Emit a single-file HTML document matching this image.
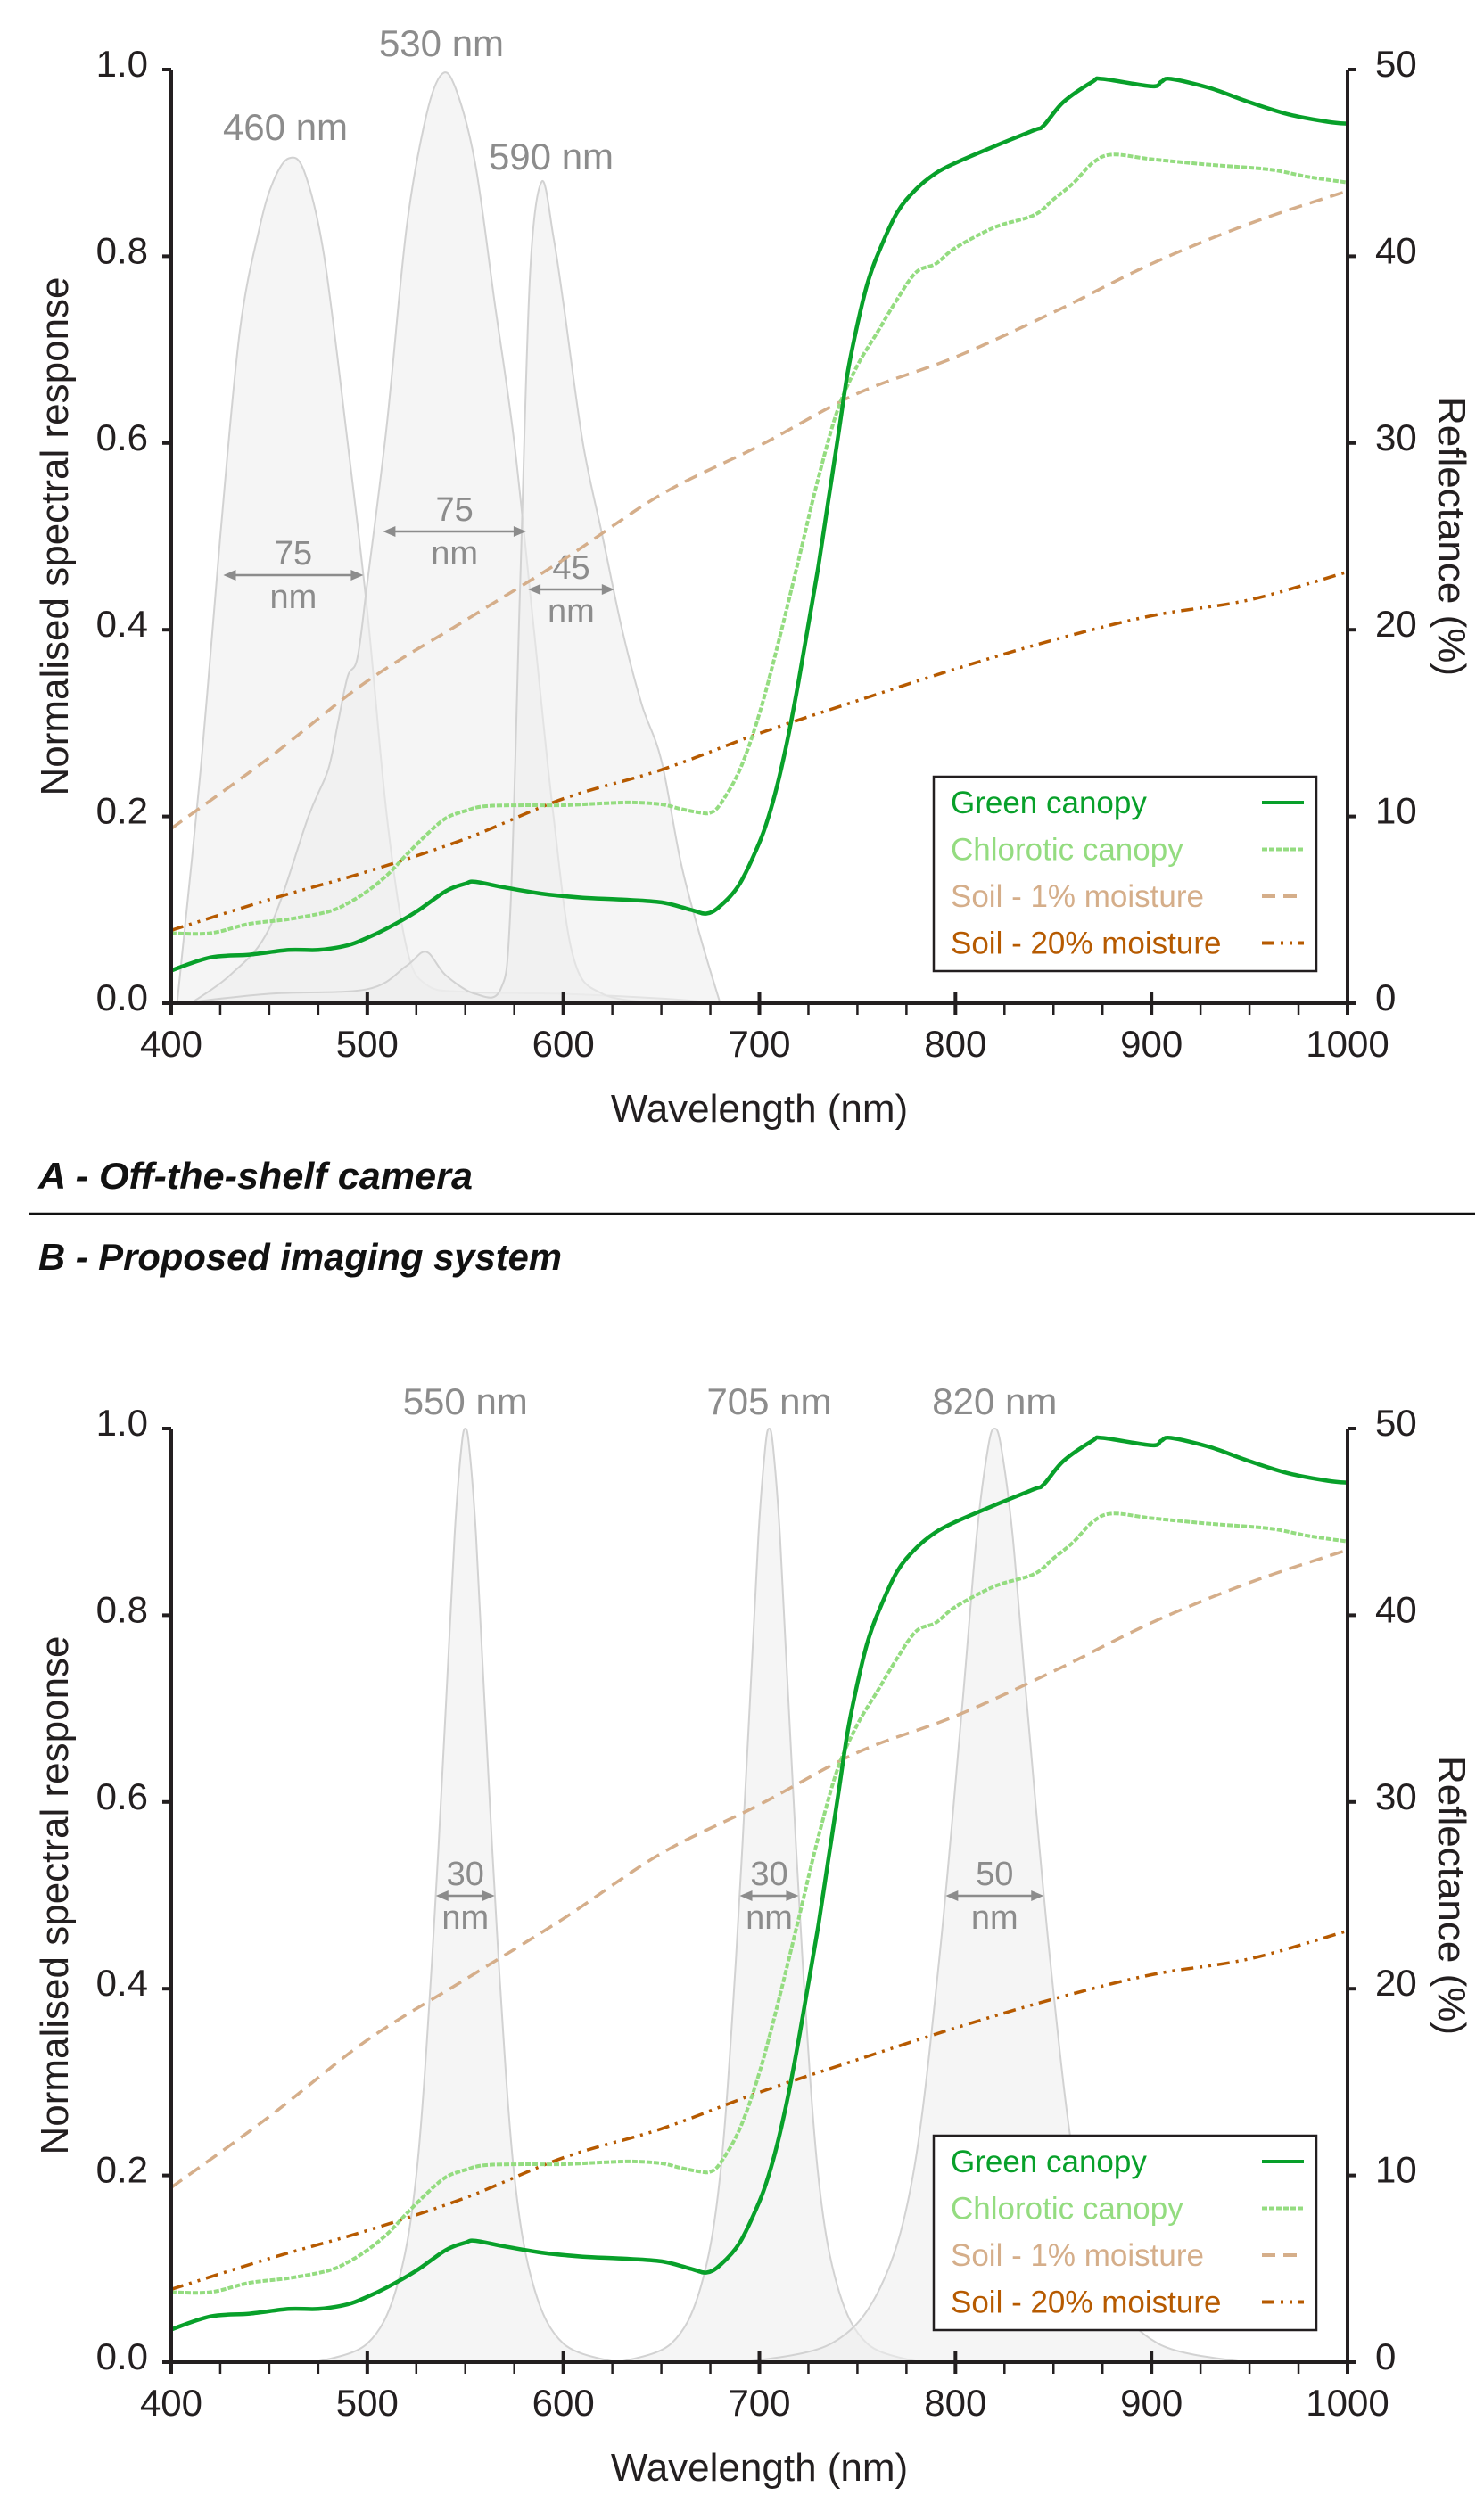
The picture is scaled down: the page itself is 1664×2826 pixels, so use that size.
<!DOCTYPE html>
<html><head><meta charset="utf-8">
<style>
html,body{margin:0;padding:0;background:#fff;}
svg{display:block;}
text{font-family:"Liberation Sans",sans-serif;}
</style></head>
<body>
<svg id="fig" width="1664" height="2826" viewBox="0 0 1664 2826" xmlns="http://www.w3.org/2000/svg">
  <text x="43" y="1333" font-size="42" font-weight="bold" font-style="italic" fill="#111" textLength="487" lengthAdjust="spacingAndGlyphs">A - Off-the-shelf camera</text>
  <line x1="32" y1="1361" x2="1654" y2="1361" stroke="#111" stroke-width="2.5"/>
  <text x="43" y="1424" font-size="42" font-weight="bold" font-style="italic" fill="#111" textLength="587" lengthAdjust="spacingAndGlyphs">B - Proposed imaging system</text>
</svg>
<script>
// ---- data ----
const wlGreen = [400,420,440,460,475,490,500,510,525,540,550,555,570,590,610,630,650,665,673,680,690,700,705,710,715,720,725,730,735,740,745,750,755,760,770,780,790,800,820,840,845,855,870,875,900,905,910,930,950,970,990,1000];
const greenCanopy = [0.035,0.049,0.052,0.057,0.057,0.062,0.07,0.08,0.098,0.12,0.128,0.13,0.124,0.117,0.113,0.111,0.108,0.10,0.096,0.104,0.128,0.172,0.202,0.241,0.289,0.345,0.406,0.467,0.536,0.605,0.675,0.727,0.77,0.80,0.846,0.872,0.889,0.90,0.918,0.935,0.94,0.965,0.987,0.99,0.982,0.987,0.99,0.98,0.965,0.952,0.944,0.942];
const wlChlor = [400,420,440,460,480,490,500,510,520,530,540,550,560,580,600,620,635,650,660,670,675,680,690,700,710,720,730,740,750,760,770,780,790,800,820,840,850,860,870,880,900,930,960,980,1000];
const chloroticCanopy = [0.075,0.075,0.085,0.09,0.098,0.107,0.12,0.137,0.159,0.18,0.198,0.206,0.211,0.212,0.212,0.214,0.215,0.213,0.208,0.204,0.204,0.213,0.25,0.31,0.389,0.475,0.562,0.636,0.683,0.718,0.753,0.783,0.792,0.809,0.831,0.844,0.861,0.878,0.90,0.909,0.904,0.898,0.893,0.885,0.879];
const wlSoil = [400,450,500,550,600,650,700,750,800,850,900,950,1000];
const soilDry = [0.187,0.263,0.345,0.41,0.475,0.545,0.597,0.653,0.692,0.74,0.792,0.835,0.87];
const soilWet = [0.078,0.111,0.141,0.176,0.219,0.25,0.289,0.324,0.358,0.389,0.415,0.432,0.462];
// camera filters (panel A)
const wlBlue = [403,415,425,435,445,452,460,468,478,490,500,510,520,530,550,600,650,680];
const blueBand = [0,0.25,0.5,0.72,0.83,0.88,0.905,0.89,0.8,0.6,0.42,0.2,0.06,0.02,0.012,0.01,0.005,0];
const wlGreenBand = [410,430,450,470,480,485,490,495,500,510,520,530,538,545,555,565,575,585,595,605,620,650];
const greenBand = [0,0.03,0.08,0.2,0.25,0.3,0.35,0.37,0.45,0.62,0.83,0.95,0.995,0.98,0.9,0.75,0.6,0.4,0.2,0.05,0.01,0];
const wlRedBand = [405,450,500,520,530,540,555,568,573,578,583,589,595,600,610,620,630,640,650,660,670,680];
const redBand = [0,0.01,0.015,0.04,0.055,0.03,0.01,0.015,0.1,0.45,0.78,0.88,0.82,0.75,0.6,0.5,0.4,0.32,0.26,0.15,0.07,0];
// proposed filters (panel B): profile vs offset in units of (FWHM/30) nm
const bandCentres = [550,705,820];
const bandFwhm = [30,30,50];
const profileOffsets = [-76,-50,-35,-25,-17,-10,-5.5,-2,0,2,5.5,10,17,25,35,50,76];
const profileValues = [0,0.02,0.08,0.2,0.43,0.7,0.885,0.98,1,0.98,0.885,0.7,0.43,0.2,0.08,0.02,0];
const xTicks = [400,500,600,700,800,900,1000];
const yTicksLeft = ["0.0","0.2","0.4","0.6","0.8","1.0"];
const yTicksRight = ["0","10","20","30","40","50"];

const NS="http://www.w3.org/2000/svg";
const svg=document.getElementById('fig');
const X0=192, X1=1511;
function sx(nm){return X0+(nm-400)/600*(X1-X0);}
function mk(tag,attrs,parent){const e=document.createElementNS(NS,tag);for(const k in attrs)e.setAttribute(k,attrs[k]);(parent||svg).appendChild(e);return e;}
function smoothPath(xs,ys){
  let d='M'+xs[0].toFixed(1)+','+ys[0].toFixed(1);
  for(let i=0;i<xs.length-1;i++){
    const x0=xs[Math.max(i-1,0)],y0=ys[Math.max(i-1,0)],x1=xs[i],y1=ys[i],x2=xs[i+1],y2=ys[i+1],x3=xs[Math.min(i+2,xs.length-1)],y3=ys[Math.min(i+2,xs.length-1)];
    const c1x=x1+(x2-x0)/6,c1y=y1+(y2-y0)/6,c2x=x2-(x3-x1)/6,c2y=y2-(y3-y1)/6;
    d+=' C'+c1x.toFixed(1)+','+c1y.toFixed(1)+' '+c2x.toFixed(1)+','+c2y.toFixed(1)+' '+x2.toFixed(1)+','+y2.toFixed(1);
  }
  return d;
}
function panel(key,yTop,yBot,bands,labels,arrows){
  const g=mk('g',{});
  
  
  const sy=v=>yBot-v*(yBot-yTop);
  bands.forEach((b,i)=>{
    const xs=b.wl.map(sx), ys=b.v.map(sy);
    const d=smoothPath(xs,ys);
    const p=mk('path',{d:d+' L'+xs[xs.length-1]+','+yBot+' L'+xs[0]+','+yBot+' Z',fill:'#eeeeee','fill-opacity':'0.6',stroke:'#d2d2d2','stroke-width':'2'},g);
    
    
  });
  labels.forEach(l=>{
    const t=mk('text',{x:l.x,y:l.y,'font-size':'42','text-anchor':'middle',fill:'#8c8c8c'},g);
    t.textContent=l.t;
    
    
  });
  arrows.forEach((a,i)=>{
    const x1=sx(a.a),x2=sx(a.b),y=a.y;
    const ag=mk('g',{stroke:'#8c8c8c','stroke-width':'2.5',fill:'#8c8c8c'},g);
    
    
    mk('line',{x1:x1+4,y1:y,x2:x2-4,y2:y},ag);
    mk('path',{d:`M${x1},${y} l14,-6 l0,12 z M${x2},${y} l-14,-6 l0,12 z`,stroke:'none'},ag);
    const c=(x1+x2)/2;
    const t1=mk('text',{x:c,y:y-12,'font-size':'38','text-anchor':'middle',fill:'#8c8c8c'},g);t1.textContent=a.w;
    
    
    const t2=mk('text',{x:c,y:y+37,'font-size':'38','text-anchor':'middle',fill:'#8c8c8c'},g);t2.textContent='nm';
    
    
  });
  const series=[
    {n:'soil-1pct-line',wl:wlSoil,v:soilDry,c:'#d5ae8a',da:'15 9',w:3.5},
    {n:'soil-20pct-line',wl:wlSoil,v:soilWet,c:'#b65a00',da:'14 7 3 7 3 7',w:3.5},
    {n:'chlorotic-canopy-line',wl:wlChlor,v:chloroticCanopy,c:'#94dc80',da:'6 2',w:4},
    {n:'green-canopy-line',wl:wlGreen,v:greenCanopy,c:'#08a02a',da:'',w:4.5}
  ];
  series.forEach(s=>{
    const p=mk('path',{d:smoothPath(s.wl.map(sx),s.v.map(sy)),fill:'none',stroke:s.c,'stroke-width':s.w,'stroke-dasharray':s.da},g);
    
    
  });
  const ax=mk('g',{stroke:'#231f20','stroke-width':'4',fill:'none'},g);
  
  
  mk('line',{x1:X0,y1:yTop,x2:X0,y2:yBot+2},ax);
  mk('line',{x1:X1,y1:yTop,x2:X1,y2:yBot+2},ax);
  mk('line',{x1:X0-2,y1:yBot,x2:X1+2,y2:yBot},ax);
  for(let nm=400;nm<=1000;nm+=25){
    const major=nm%100===0;
    mk('line',{x1:sx(nm),y1:major?yBot-12:yBot,x2:sx(nm),y2:yBot+13,'stroke-width':major?4:2.5},ax);
  }
  xTicks.forEach(v=>{
    const t=mk('text',{x:sx(v),y:yBot+60,'font-size':'42','text-anchor':'middle',fill:'#231f20'},g);t.textContent=v;
    
    
  });
  yTicksLeft.forEach((lab,i)=>{
    const y=sy(i*0.2);
    mk('line',{x1:X0-10,y1:y,x2:X0,y2:y},ax);
    mk('line',{x1:X1,y1:y,x2:X1+10,y2:y},ax);
    const t=mk('text',{x:166,y:y+8,'font-size':'42','text-anchor':'end',fill:'#231f20'},g);t.textContent=lab;
    
    
    const r=mk('text',{x:1542,y:y+8,'font-size':'42','text-anchor':'start',fill:'#231f20'},g);r.textContent=yTicksRight[i];
    
    
  });
  const xt=mk('text',{x:(X0+X1)/2,y:yBot+133,'font-size':'44','text-anchor':'middle',fill:'#231f20'},g);xt.textContent='Wavelength (nm)';
  
  
  const ym=(yTop+yBot)/2;
  const yl=mk('text',{x:0,y:0,'font-size':'44','text-anchor':'middle',fill:'#231f20',transform:`translate(76,${ym}) rotate(-90)`},g);yl.textContent='Normalised spectral response';
  
  
  const yr=mk('text',{x:0,y:0,'font-size':'44','text-anchor':'middle',fill:'#231f20',transform:`translate(1613,${ym}) rotate(90)`},g);yr.textContent='Reflectance (%)';
  
  
  const off=yBot-1125;
  const lg=mk('g',{},g);
  
  
  mk('rect',{x:1047,y:871+off,width:429,height:218,fill:'#fff',stroke:'#231f20','stroke-width':'2.5'},lg);
  const ent=[['Green canopy','#08a02a',''],['Chlorotic canopy','#94dc80','6 2'],['Soil - 1% moisture','#d5ae8a','15 9'],['Soil - 20% moisture','#b65a00','14 7 3 7 3 7']];
  ent.forEach((e,i)=>{
    const y=900+off+i*52.5;
    const eg=mk('g',{},lg);
    
    
    const t=mk('text',{x:1066,y:y+12,'font-size':'35',fill:e[1]},eg);t.textContent=e[0];
    mk('line',{x1:1415,y1:y,x2:1462,y2:y,stroke:e[1],'stroke-width':4,'stroke-dasharray':e[2]},eg);
  });
}
panel('a',78,1125,
  [{name:'460',wl:wlBlue,v:blueBand},{name:'530',wl:wlGreenBand,v:greenBand},{name:'590',wl:wlRedBand,v:redBand}],
  [{t:'460 nm',x:320,y:157},{t:'530 nm',x:495,y:63},{t:'590 nm',x:618,y:190}],
  [{a:426.6,b:498,y:645,w:'75'},{a:508,b:581,y:596,w:'75'},{a:582,b:626,y:661,w:'45'}]);
const bandsB=bandCentres.map((c,i)=>({name:String(c),wl:profileOffsets.map(o=>c+o*bandFwhm[i]/30),v:profileValues}));
panel('b',1602,2649,bandsB,
  [{t:'550 nm',x:sx(550),y:1586},{t:'705 nm',x:sx(705),y:1586},{t:'820 nm',x:sx(820),y:1586}],
  bandCentres.map((c,i)=>({a:c-bandFwhm[i]/2,b:c+bandFwhm[i]/2,y:2126,w:String(bandFwhm[i])})));
</script>
</body></html>
